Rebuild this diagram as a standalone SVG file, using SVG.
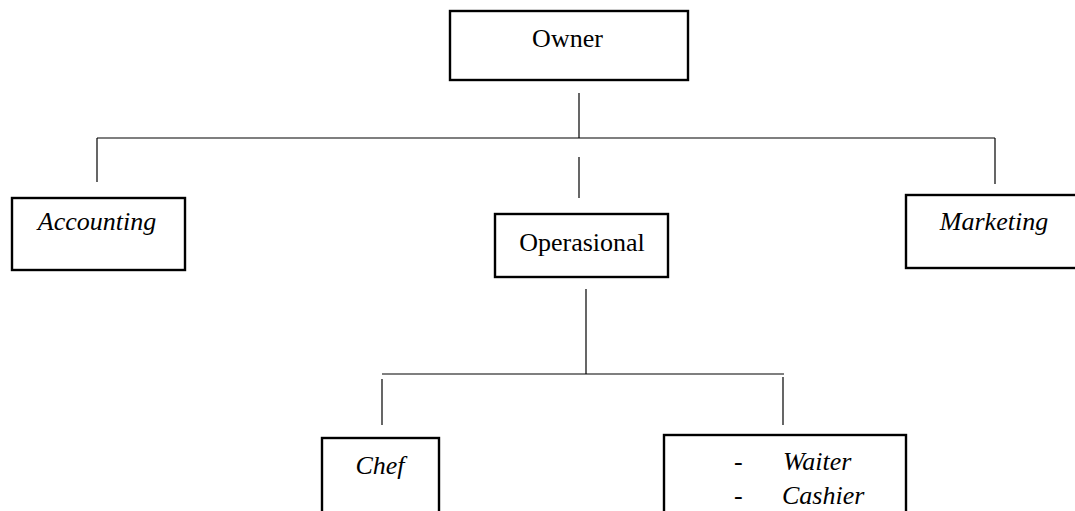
<svg xmlns="http://www.w3.org/2000/svg" width="1075" height="511" viewBox="0 0 1075 511">
  <style>
    .box { fill: #fff; stroke: #000; stroke-width: 2.4; }
    .conn line { stroke: #000; stroke-width: 1.2; }
    text { font-family: "Liberation Serif", "Times New Roman", serif; font-size: 26px; fill: #000; }
    .it { font-style: italic; }
  </style>
  <rect width="1075" height="511" fill="#fff"/>
  <g id="connectors" class="conn">
    <line x1="579" y1="93" x2="579" y2="138"/>
    <line x1="97" y1="138" x2="995" y2="138"/>
    <line x1="97" y1="138" x2="97" y2="182"/>
    <line x1="995" y1="138" x2="995" y2="184"/>
    <line x1="579" y1="157" x2="579" y2="198"/>
    <line x1="586" y1="289" x2="586" y2="374"/>
    <line x1="382" y1="374" x2="784" y2="374"/>
    <line x1="382" y1="379" x2="382" y2="425"/>
    <line x1="783" y1="377" x2="783" y2="425"/>
  </g>
  <g id="owner">
    <rect class="box" x="450" y="11" width="238" height="69"/>
    <text x="567.5" y="47" text-anchor="middle">Owner</text>
  </g>
  <g id="accounting">
    <rect class="box" x="12" y="198" width="173" height="72"/>
    <text class="it" x="97" y="230" text-anchor="middle">Accounting</text>
  </g>
  <g id="marketing">
    <rect class="box" x="906" y="195" width="175" height="73"/>
    <text class="it" x="994" y="230" text-anchor="middle">Marketing</text>
  </g>
  <g id="operasional">
    <rect class="box" x="495" y="214" width="173" height="63"/>
    <text x="582" y="251" text-anchor="middle">Operasional</text>
  </g>
  <g id="chef">
    <rect class="box" x="322" y="438" width="117" height="80"/>
    <text class="it" x="380" y="474" text-anchor="middle">Chef</text>
  </g>
  <g id="staff">
    <rect class="box" x="664" y="435" width="242" height="83"/>
    <text x="734" y="470">-</text>
    <text class="it" x="783" y="470">Waiter</text>
    <text x="734" y="504">-</text>
    <text class="it" x="782" y="504">Cashier</text>
  </g>
</svg>
